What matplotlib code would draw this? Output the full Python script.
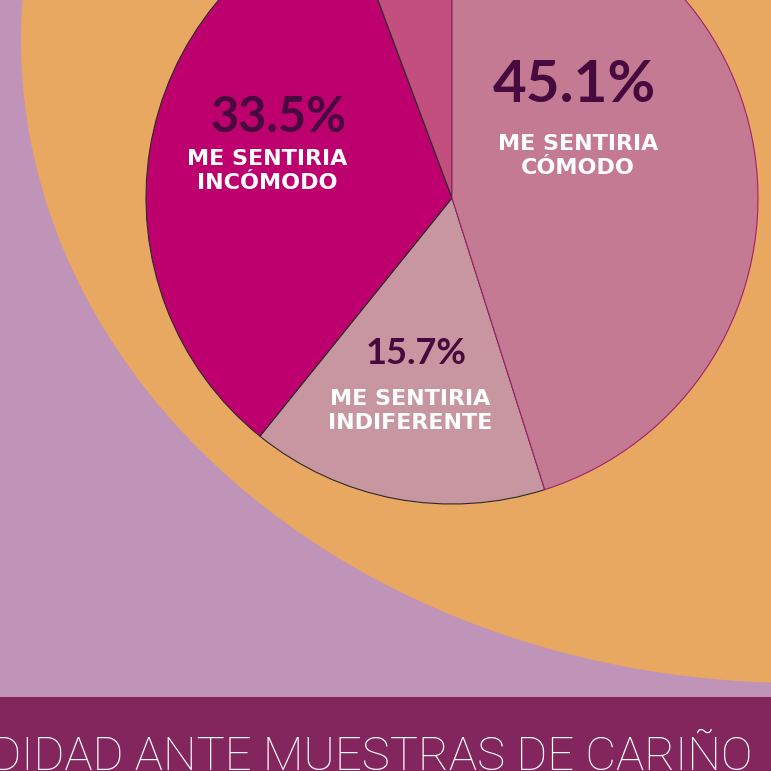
import matplotlib
matplotlib.use("Agg")
import matplotlib.pyplot as plt
from matplotlib.patches import Ellipse, Rectangle

# data
categories = ["ME SENTIRIA\nCÓMODO", "ME SENTIRIA\nINDIFERENTE", "ME SENTIRIA\nINCÓMODO", ""]
values = [45.1, 15.7, 33.5, 5.7]
slice_colors = ["#C47A92", "#C896A0", "#BE006E", "#C24F7E"]
edge_colors = ["#A0206A", "#2A2A2A", "#2A2A2A", "#2A2A2A"]
title = "COMODIDAD ANTE MUESTRAS DE CARIÑO"

W = H = 771
BG = "#C093B8"
ORANGE = "#E8A862"
BANNER = "#83265E"
DARK = "#470A3F"

fig = plt.figure(figsize=(W / 100, H / 100), dpi=100, facecolor=BG)
ax = fig.add_axes([0, 0, 1, 1])

# big orange disc behind the pie (pixel coords, y measured from the bottom)
ax.add_patch(Ellipse((800, H - 40), 2 * 779, 2 * 643, facecolor=ORANGE,
                     edgecolor="none", zorder=1))

center = (452, H - 198)
radius = 306
wedges, _ = ax.pie(values, colors=slice_colors, startangle=90, counterclock=False,
                   center=center, radius=radius,
                   wedgeprops=dict(linewidth=0.8))
for w, ec in zip(wedges, edge_colors):
    w.set_edgecolor(ec)
    w.set_zorder(2)
wedges[0].set_zorder(3)

# percentages and labels
pct_font = ["Lato", "DejaVu Sans"]
lab = dict(ha="center", va="center", fontsize=16, fontweight="bold",
           color="white", linespacing=1.3, zorder=5)
ax.text(574, H - 86, f"{values[0]}%", ha="center", va="center", fontsize=42,
        fontweight="bold", color=DARK, family=pct_font, zorder=5)
ax.text(578, H - 156, categories[0], **lab)

ax.text(278, H - 118, f"{values[2]}%", ha="center", va="center", fontsize=35,
        fontweight="bold", color=DARK, family=pct_font, zorder=5)
ax.text(267, H - 171, categories[2], **lab)

ax.text(416, H - 354, f"{values[1]}%", ha="center", va="center", fontsize=26,
        fontweight="bold", color=DARK, family=pct_font, zorder=5)
ax.text(410, H - 411, categories[1], **lab)

ax.text(408, H + 10, f"{values[3]}%", ha="center", va="center", fontsize=18,
        fontweight="bold", color="white", zorder=5)

# bottom banner with the title
ax.add_patch(Rectangle((0, 0), W, 74, facecolor=BANNER, edgecolor="none", zorder=6))
ax.text(752, 1, title, ha="right", va="baseline", fontsize=34, color="white",
        fontweight="light", family=["Roboto", "DejaVu Sans"], zorder=7)

ax.set_xlim(0, W)
ax.set_ylim(0, H)
ax.set_aspect("equal")
ax.axis("off")

fig.savefig("out.png", dpi=100, facecolor=BG)
